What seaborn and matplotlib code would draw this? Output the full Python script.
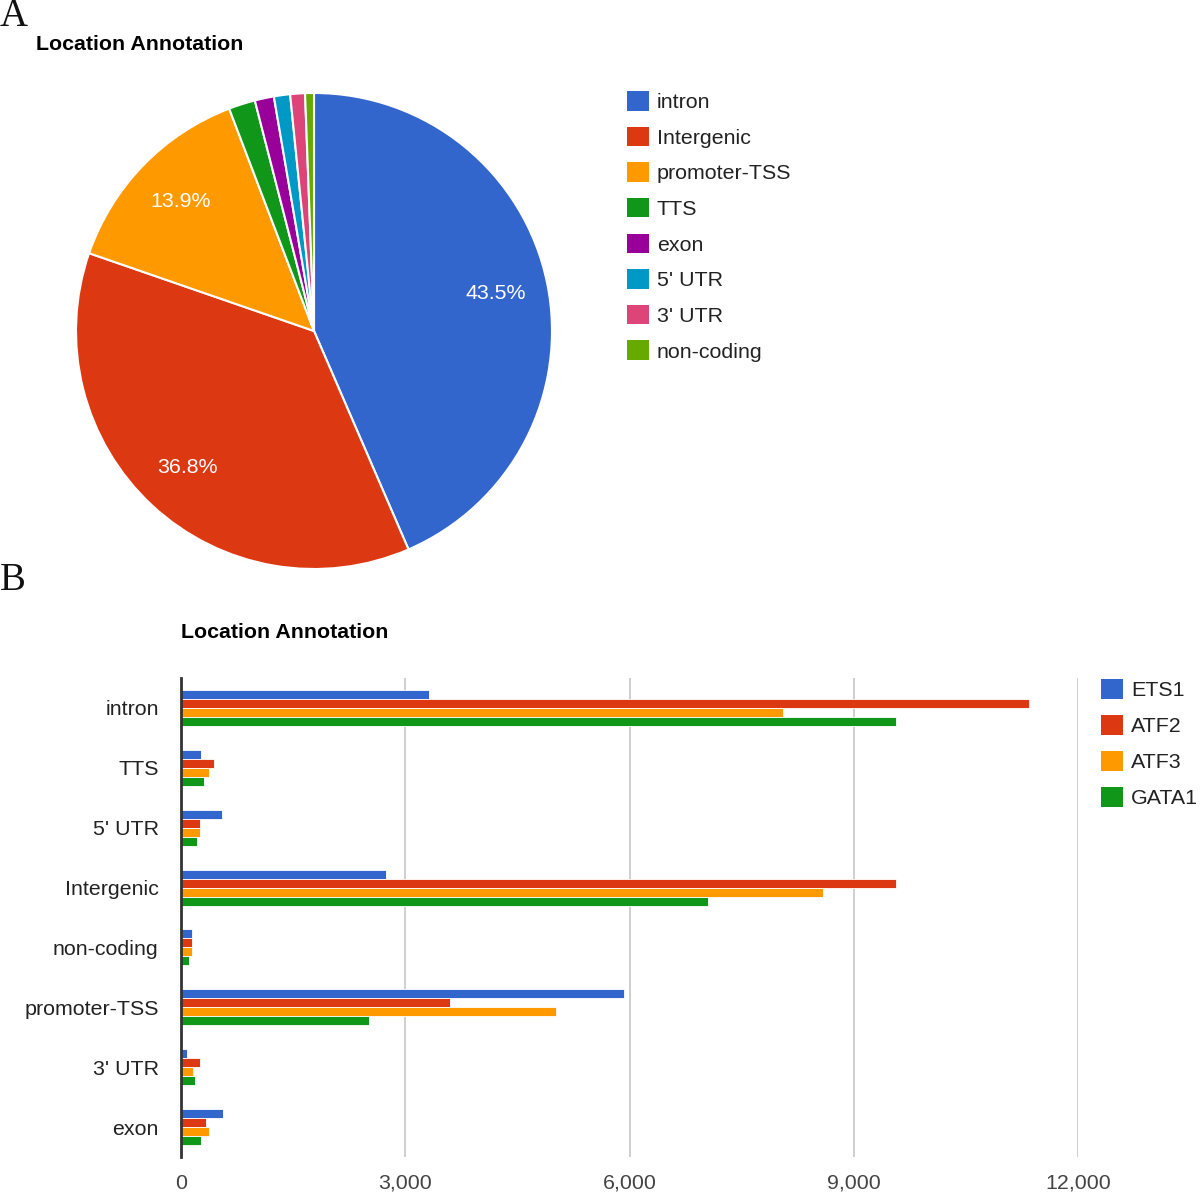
import matplotlib
matplotlib.use("Agg")
import matplotlib.pyplot as plt
import seaborn as sns
import pandas as pd
from matplotlib.patches import Patch

sns.set_theme(style="white")
plt.rcParams['font.family'] = ['Liberation Sans', 'DejaVu Sans']

# ---- Data ----
pie_labels = ["intron", "Intergenic", "promoter-TSS", "TTS", "exon", "5' UTR", "3' UTR", "non-coding"]
pie_values = [43.5, 36.8, 13.9, 1.8, 1.3, 1.1, 1.0, 0.6]
pie_colors = ["#3366CC", "#DC3912", "#FF9900", "#109618", "#990099", "#0099C6", "#DD4477", "#66AA00"]

bar_categories = ["intron", "TTS", "5' UTR", "Intergenic", "non-coding", "promoter-TSS", "3' UTR", "exon"]
series_names = ["ETS1", "ATF2", "ATF3", "GATA1"]
ets1 = [3320, 272, 544, 2745, 142, 5930, 80, 557]
atf2 = [11340, 440, 250, 9560, 142, 3596, 250, 330]
atf3 = [8060, 375, 250, 8590, 142, 5020, 165, 375]
gata1 = [9560, 312, 209, 7050, 102, 2511, 182, 268]
bar_colors = ["#3366CC", "#DC3912", "#FF9900", "#109618"]
x_ticks = [0, 3000, 6000, 9000, 12000]
x_ticklabels = ["0", "3,000", "6,000", "9,000", "12,000"]

W, H = 1200, 1196
FS = 15.4
fig = plt.figure(figsize=(12, 11.96), dpi=100)

# ---- Panel A: pie ----
axp = fig.add_axes([76 / W, 1 - 569 / H, 476 / W, 476 / H])
wedges, texts, autotexts = axp.pie(
    pie_values, colors=pie_colors, startangle=90, counterclock=False,
    autopct=lambda p: f"{p:.1f}%" if p > 5 else "", pctdistance=0.78,
    wedgeprops=dict(edgecolor="white", linewidth=1.5),
    textprops=dict(color="white", fontsize=FS))
axp.set_xlim(-1, 1)
axp.set_ylim(-1, 1)
axp.set_aspect("equal")
axp.legend([Patch(facecolor=c, edgecolor="none") for c in pie_colors], pie_labels,
           loc="upper left", bbox_to_anchor=(627 / W, 1 - 91 / H), bbox_transform=fig.transFigure,
           frameon=False, fontsize=FS, handlelength=1.03, handleheight=1.03,
           handletextpad=0.37, labelspacing=0.68, borderaxespad=0, borderpad=0,
           labelcolor="#222222")

fig.text(0 / W, 1 - 17 / H, "A", fontsize=28, family=['Liberation Serif', 'DejaVu Serif'],
         va="center", ha="left", color="#111111")
fig.text(36 / W, 1 - 45 / H, "Location Annotation", fontsize=FS, fontweight="bold",
         va="center", ha="left", color="#000000")

# ---- Panel B: bars ----
df = pd.DataFrame({
    "category": bar_categories * 4,
    "value": ets1 + atf2 + atf3 + gata1,
    "series": sum([[s] * len(bar_categories) for s in series_names], []),
})
axb = fig.add_axes([181 / W, 1 - 1157 / H, 897 / W, 479 / H])
sns.barplot(data=df, x="value", y="category", hue="series", order=bar_categories,
            hue_order=series_names, palette=bar_colors, orient="h", width=0.6,
            saturation=1, edgecolor="white", linewidth=0.6, ax=axb, legend=False)
axb.set_xlim(0, 12000)
axb.set_ylim(len(bar_categories) - 0.5, -0.5)
axb.set_xticks(x_ticks)
axb.set_xticklabels(x_ticklabels)
axb.set_xlabel("")
axb.set_ylabel("")
axb.grid(axis="x", color="#cccccc", linewidth=1.3)
axb.set_axisbelow(True)
for s in ["top", "right", "bottom"]:
    axb.spines[s].set_visible(False)
axb.spines["left"].set_color("#333333")
axb.spines["left"].set_linewidth(2)
axb.spines["left"].set_zorder(5)
axb.tick_params(axis="x", length=0, pad=12, labelsize=FS, labelcolor="#444444")
axb.tick_params(axis="y", length=0, pad=16, labelsize=FS, labelcolor="#222222")

axb.legend([Patch(facecolor=c, edgecolor="none") for c in bar_colors], series_names,
           loc="upper left", bbox_to_anchor=(1101 / W, 1 - 679 / H), bbox_transform=fig.transFigure,
           frameon=False, fontsize=FS, handlelength=1.03, handleheight=1.03,
           handletextpad=0.37, labelspacing=0.7, borderaxespad=0, borderpad=0,
           labelcolor="#222222")

fig.text(0 / W, 1 - 581 / H, "B", fontsize=28, family=['Liberation Serif', 'DejaVu Serif'],
         va="center", ha="left", color="#111111")
fig.text(181 / W, 1 - 632 / H, "Location Annotation", fontsize=FS, fontweight="bold",
         va="center", ha="left", color="#000000")

fig.savefig("out.png", dpi=100, facecolor="white")
